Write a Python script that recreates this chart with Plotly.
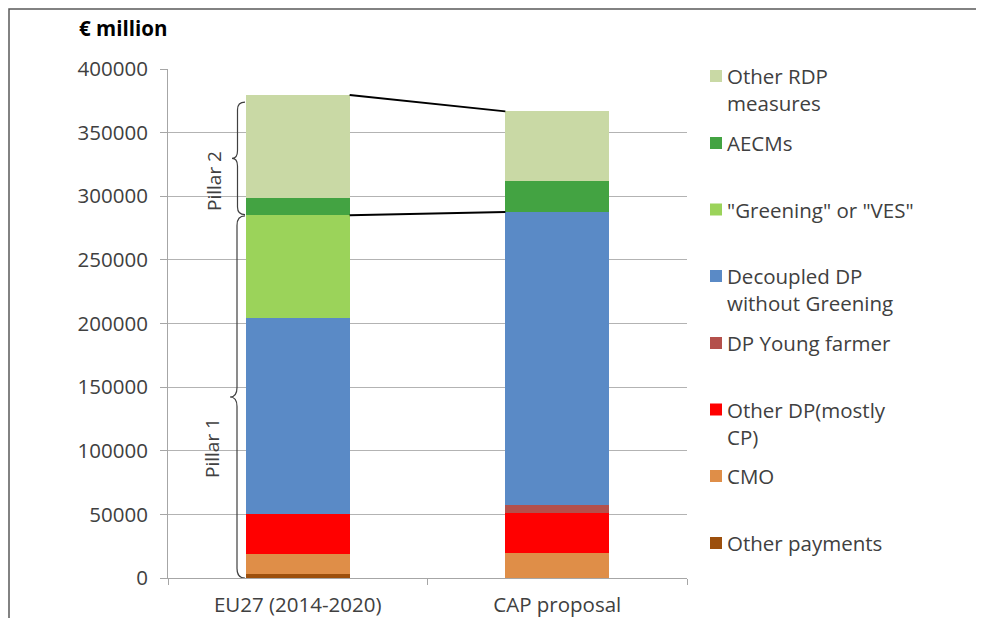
import plotly.graph_objects as go

categories = ["EU27 (2014-2020)", "CAP proposal"]
series_names = ["Other payments", "CMO", "Other DP(mostly CP)", "DP Young farmer",
                "Decoupled DP without Greening", "\"Greening\" or \"VES\"", "AECMs",
                "Other RDP measures"]
legend_labels = ["Other payments", "CMO", "Other DP(mostly<br>CP)", "DP Young farmer",
                 "Decoupled DP<br>without Greening", "\"Greening\" or \"VES\"", "AECMs",
                 "Other RDP<br>measures"]
other_payments = [3500, 0]
cmo = [15400, 19900]
other_dp = [31500, 31500]
dp_young = [0, 6300]
decoupled = [154000, 230000]
greening = [80600, 0]
aecms = [13600, 24000]
other_rdp = [80900, 55000]
y_ticks = [0, 50000, 100000, 150000, 200000, 250000, 300000, 350000, 400000]

series_values = [other_payments, cmo, other_dp, dp_young, decoupled, greening, aecms, other_rdp]
colors = ["#9c4f0c", "#df8e48", "#ff0000", "#b4504b", "#5a8ac6", "#9bd35a", "#43a342", "#c9d9a5"]

# page body has an 8px margin: work in viewport pixels, convert to figure pixels
OFF = 8
W, H = 984 - OFF, 618 - OFF
PX_L, PX_R, PX_T, PX_B = 168 - OFF, 687 - OFF, 69 - OFF, 578 - OFF
def px_x(px):
    return (px - OFF - PX_L) / (PX_R - PX_L)
def px_y(py):
    return (PX_B - (py - OFF)) / (PX_B - PX_T)

FONT = "Open Sans"
TXT = "#404040"

fig = go.Figure()
for name, vals, col in zip(series_names, series_values, colors):
    fig.add_trace(go.Bar(x=categories, y=vals, name=name, marker=dict(color=col, line=dict(width=0)),
                         width=0.4, showlegend=False))

pillar1 = [sum(s[i] for s in series_values[:6]) for i in range(2)]
totals = [sum(s[i] for s in series_values) for i in range(2)]

shapes = []
for a, b in [(totals[0], totals[1]), (pillar1[0], pillar1[1])]:
    shapes.append(dict(type="line", xref="x", yref="y", x0=0.2, x1=0.8, y0=a, y1=b,
                       line=dict(color="#000000", width=2)))

def brace(y_top, y_bot, x_end, x_mid, x_tip, r):
    yc = (y_top + y_bot) / 2
    return (f"M {x_end},{y_top} Q {x_mid},{y_top} {x_mid},{y_top - r} "
            f"L {x_mid},{yc + r} Q {x_mid},{yc} {x_tip},{yc} "
            f"Q {x_mid},{yc} {x_mid},{yc - r} L {x_mid},{y_bot + r} "
            f"Q {x_mid},{y_bot} {x_end},{y_bot}")

shapes.append(dict(type="path", xref="paper", yref="y",
                   path=brace(totals[0] - 5500, pillar1[0] + 500, px_x(245), px_x(237.5), px_x(232), 6000),
                   line=dict(color="#404040", width=1.2)))
shapes.append(dict(type="path", xref="paper", yref="y",
                   path=brace(pillar1[0] - 500, 0, px_x(245), px_x(237), px_x(230), 7500),
                   line=dict(color="#404040", width=1.2)))

shapes.append(dict(type="rect", xref="paper", yref="paper", x0=px_x(9), x1=px_x(1010),
                   y0=px_y(660), y1=px_y(9), line=dict(color="#595959", width=1.5),
                   fillcolor="rgba(0,0,0,0)", layer="below"))

annotations = []
annotations.append(dict(text="<b>€ million</b>", xref="paper", yref="paper", x=px_x(77), y=px_y(28),
                        xanchor="left", yanchor="middle", showarrow=False,
                        font=dict(family=FONT, size=20.5, color="#000000")))
annotations.append(dict(text="Pillar 2", xref="paper", yref="paper", x=px_x(214), y=px_y(181),
                        xanchor="center", yanchor="middle",
                        textangle=-90, showarrow=False, font=dict(family=FONT, size=19, color=TXT)))
annotations.append(dict(text="Pillar 1", xref="paper", yref="paper", x=px_x(212), y=px_y(448),
                        xanchor="center", yanchor="middle",
                        textangle=-90, showarrow=False, font=dict(family=FONT, size=19, color=TXT)))

leg_centers = [543, 476, 409.5, 343, 276, 209.5, 143, 76]
for lab, col, cy in zip(legend_labels, colors, leg_centers):
    shapes.append(dict(type="rect", xref="paper", yref="paper", x0=px_x(710), x1=px_x(722),
                       y0=px_y(cy + 6), y1=px_y(cy - 6), fillcolor=col, line=dict(width=0)))
    annotations.append(dict(text=lab, xref="paper", yref="paper", x=px_x(725), y=px_y(cy - 16),
                            xanchor="left", yanchor="top", align="left", showarrow=False,
                            font=dict(family=FONT, size=20.5, color=TXT)))

fig.update_layout(
    width=W, height=H, barmode="stack", plot_bgcolor="white", paper_bgcolor="white",
    margin=dict(l=PX_L, r=W - PX_R, t=PX_T, b=H - PX_B, autoexpand=False),
    font=dict(family=FONT, size=20.5, color=TXT),
    shapes=shapes, annotations=annotations,
    xaxis=dict(type="category", range=[-0.5, 1.5], showline=True, linecolor="#a6a6a6", linewidth=1,
               ticks="outside", tickson="boundaries", ticklen=6, tickcolor="#a6a6a6", automargin=False,
               showgrid=False, ticklabelstandoff=8, tickfont=dict(family=FONT, size=20.5, color=TXT)),
    yaxis=dict(range=[0, 400000], tickvals=y_ticks, ticktext=[str(v) for v in y_ticks],
               showline=True, linecolor="#a6a6a6", linewidth=1, ticks="outside", ticklen=7,
               tickcolor="#a6a6a6", showgrid=True, gridcolor="#b3b3b3", gridwidth=1, automargin=False,
               zeroline=False, ticklabelstandoff=8, tickfont=dict(family=FONT, size=20.5, color=TXT)),
)

fig.write_html("out.html")
